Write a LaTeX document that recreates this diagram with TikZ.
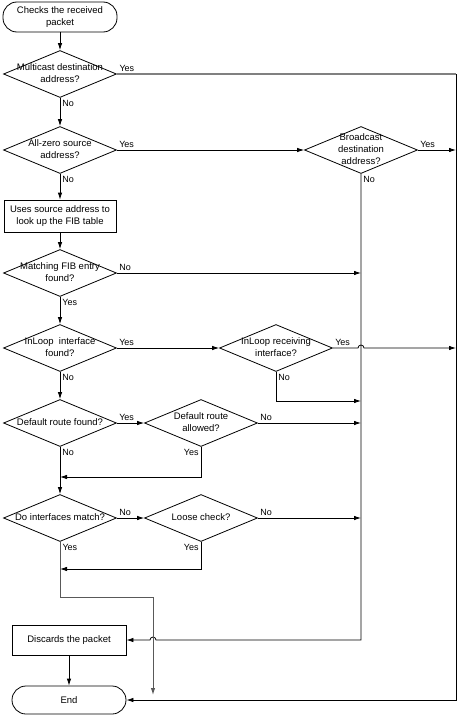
\documentclass[tikz,border=0pt]{standalone}
\usepackage{fontspec}
\setmainfont{Liberation Sans}
\usetikzlibrary{shapes.geometric,arrows.meta,calc}

\newcommand\dtext[1]{\makebox[0pt]{\begin{tabular}{@{}c@{}}#1\end{tabular}}}

\begin{document}
\begin{tikzpicture}[x=1pt,y=-1pt,
    font=\fontsize{9.5}{12}\selectfont,
    line width=0.8pt,
    term/.style={draw, rounded corners=14pt, minimum width=114pt, minimum height=30pt, align=center},
    proc/.style={draw, minimum width=112pt, minimum height=32pt, align=center},
    decision/.style={draw, diamond, minimum width=113pt, minimum height=47pt, inner sep=0pt},
    lbl/.style={font=\fontsize{9}{10}\selectfont, inner sep=2pt},
    flow/.style={-{Latex[length=7pt,width=4.5pt]}}]
    \useasboundingbox (0,0) rectangle (458,717);
    % \draw[help lines,step=10] (0,0) grid (458,717);

    \coordinate (mid) at (361,0);
    \coordinate (rgt) at (456,0);

    \node[term] (start) at (60,17) {Checks the received\\packet};
    \node[decision] (mcast) at (60,74) {\dtext{Multicast destination\\address?}};
    \node[decision] (zero) at (60,150) {\dtext{All-zero source\\address?}};
    \node[decision] (bcast) at (361,150) {\dtext{Broadcast\\destination\\address?}};
    \node[proc] (fib) at (60,216) {Uses source address to\\look up the FIB table};
    \node[decision] (entry) at (60,273) {\dtext{Matching FIB entry\\found?}};
    \node[decision] (inloop) at (60,348) {\dtext{InLoop\ \ interface\\found?}};
    \node[decision] (recv) at (276,348) {\dtext{InLoop receiving\\interface?}};
    \node[decision] (dflt) at (60,423) {\dtext{Default route found?}};
    \node[decision] (allow) at (201,423) {\dtext{Default route\\allowed?}};
    \node[decision] (match) at (60,518) {\dtext{Do interfaces match?}};
    \node[decision] (loose) at (201,518) {\dtext{Loose check?}};
    \node[proc,minimum width=114pt,minimum height=30pt] (drop) at (69,640) {Discards the packet};
    \node[term,minimum height=28pt] (end) at (69,700) {End};

    \coordinate (k1) at (361,401);
    \coordinate (j1) at (60,477);
    \coordinate (j2) at (60,569);
    \coordinate (bend) at (60,597);
    \coordinate (pass) at (153,695);

    \draw[flow] (start) -- (mcast);
    \draw[draw=gray,line width=1.2pt] (mcast.east) node[lbl,above right]{Yes} -- (mcast.east -| rgt);
    \draw[flow] (mcast.east -| rgt) |- (end.east);
    \draw[flow] (mcast.south) node[lbl,below right]{No} -- (zero.north);
    \draw[flow] (zero.east) node[lbl,above right]{Yes} -- (bcast.west);
    \draw[flow] (bcast.east) node[lbl,above right]{Yes} -- (bcast.east -| rgt);
    \draw[flow] (bcast.south) node[lbl,below right]{No} -- (drop.east -| mid)
      -- ($(drop.east -| pass)+(3,0)$) arc[start angle=0,end angle=180,radius=3pt] -- (drop.east);
    \draw[flow] (zero.south) node[lbl,below right]{No} -- (fib.north);
    \draw[flow] (fib) -- (entry);
    \draw[flow] (entry.east) node[lbl,above right]{No} -- (entry.east -| mid);
    \draw[flow] (entry.south) node[lbl,below right]{Yes} -- (inloop.north);
    \draw[flow] (inloop.east) node[lbl,above right]{Yes} -- (recv.west);
    \draw[flow] (recv.east) node[lbl,above right]{Yes} -- ($(recv.east -| mid)-(3,0)$)
      arc[start angle=180,end angle=0,radius=3pt] -- (recv.east -| rgt);
    \draw[flow] (recv.south) node[lbl,below right]{No} |- (k1);
    \draw[flow] (inloop.south) node[lbl,below right]{No} -- (dflt.north);
    \draw[flow] (dflt.east) node[lbl,above right]{Yes} -- (allow.west);
    \draw[flow] (allow.east) node[lbl,above right]{No} -- (allow.east -| mid);
    \draw[flow] (allow.south) node[lbl,below left]{Yes} |- (j1);
    \draw[flow] (dflt.south) node[lbl,below right]{No} -- (match.north);
    \draw[flow] (match.east) node[lbl,above right]{No} -- (loose.west);
    \draw[flow] (loose.east) node[lbl,above right]{No} -- (loose.east -| mid);
    \draw[flow] (loose.south) node[lbl,below left]{Yes} |- (j2);
    \draw[flow,draw=black!65,line width=1pt] (match.south) node[lbl,below right]{Yes} |- (bend) -| (pass);
    \draw[flow] (drop) -- (end);
  \end{tikzpicture}
\end{document}
